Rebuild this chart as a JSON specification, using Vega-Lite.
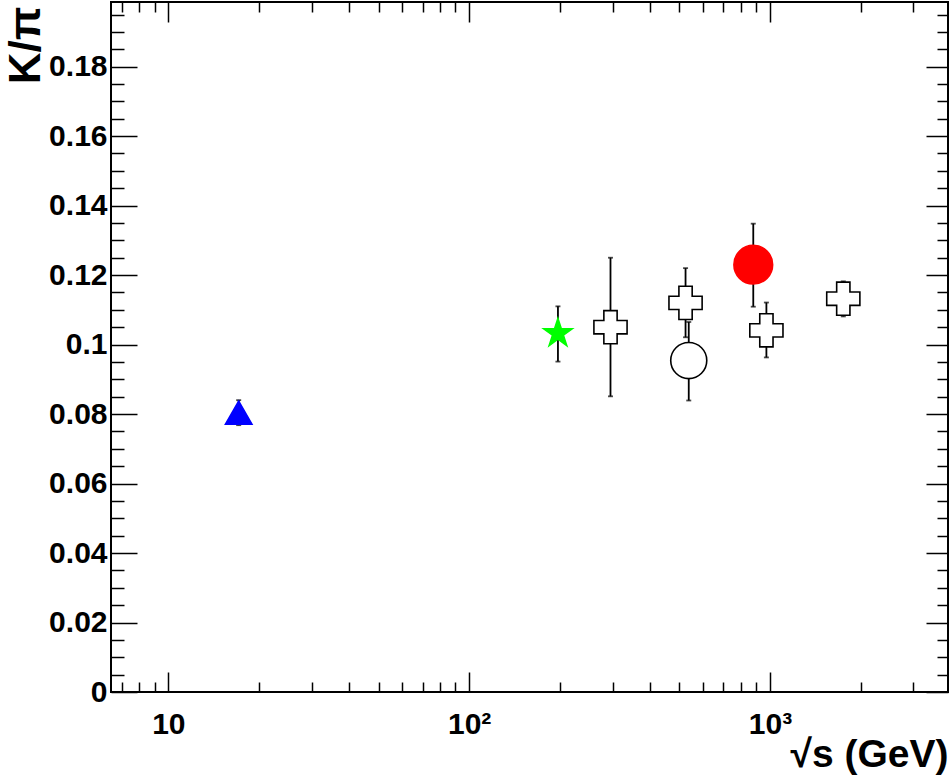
{
  "$schema": "https://vega.github.io/schema/vega-lite/v6.json",
  "autosize": {"type": "none"},
  "padding": {"left": 111, "top": 2, "right": 2, "bottom": 84},
  "width": 837,
  "height": 690,
  "background": "white",
  "config": {
    "view": {"stroke": "black", "strokeWidth": 2},
    "font": "Liberation Sans",
    "axis": {
      "grid": false,
      "domain": false,
      "tickColor": "black",
      "tickWidth": 1.5,
      "labelColor": "black",
      "labelFont": "Liberation Sans",
      "labelFontWeight": "bold",
      "labelFontSize": 30,
      "labelOverlap": false,
      "labelFlush": false,
      "labelBound": false,
      "titleFont": "Liberation Sans",
      "titleFontWeight": "bold",
      "titleColor": "black"
    }
  },
  "data": {
    "values": [
      {"kind": "triangle", "sqrts": 17.13, "ratio": 0.0804, "lo": 0.0768, "hi": 0.084},
      {"kind": "star", "sqrts": 197.3, "ratio": 0.1032, "lo": 0.0951, "hi": 0.111},
      {"kind": "cross", "sqrts": 295, "ratio": 0.105, "lo": 0.0851, "hi": 0.125},
      {"kind": "cross", "sqrts": 524, "ratio": 0.112, "lo": 0.1021, "hi": 0.122},
      {"kind": "open", "sqrts": 537, "ratio": 0.0954, "lo": 0.0839, "hi": 0.1065},
      {"kind": "full", "sqrts": 880, "ratio": 0.123, "lo": 0.1109, "hi": 0.1348},
      {"kind": "cross", "sqrts": 973, "ratio": 0.1041, "lo": 0.0963, "hi": 0.1121},
      {"kind": "cross", "sqrts": 1753, "ratio": 0.1132, "lo": 0.1081, "hi": 0.1182}
    ]
  },
  "resolve": {"axis": {"x": "independent", "y": "independent"}},
  "layer": [
    {
      "mark": {"type": "rule", "color": "black", "strokeWidth": 1.8},
      "encoding": {
        "x": {
          "field": "sqrts",
          "type": "quantitative",
          "scale": {"type": "log", "domain": [6.446, 3907], "nice": false},
          "axis": {
            "orient": "bottom",
            "values": [7, 8, 9, 10, 20, 30, 40, 50, 60, 70, 80, 90, 100, 200, 300, 400, 500, 600, 700, 800, 900, 1000, 2000, 3000],
            "labelExpr": "datum.value == 10 ? '10' : datum.value == 100 ? '10²' : datum.value == 1000 ? '10³' : ''",
            "tickSize": {"condition": {"test": "datum.value == 10 || datum.value == 100 || datum.value == 1000", "value": -20}, "value": -10},
            "labelPadding": 37,
            "labelBaseline": "top",
            "title": "√s (GeV)",
            "titleFontSize": 39,
            "titleX": 837,
            "titleY": 74,
            "titleAlign": "right",
            "titleBaseline": "alphabetic",
            "titleAnchor": null
          }
        },
        "y": {
          "field": "lo",
          "type": "quantitative",
          "scale": {"domain": [0, 0.1986], "nice": false, "zero": false},
          "axis": {
            "orient": "left",
            "values": [0, 0.005, 0.01, 0.015, 0.02, 0.025, 0.03, 0.035, 0.04, 0.045, 0.05, 0.055, 0.06, 0.065, 0.07, 0.075, 0.08, 0.085, 0.09, 0.095, 0.1, 0.105, 0.11, 0.115, 0.12, 0.125, 0.13, 0.135, 0.14, 0.145, 0.15, 0.155, 0.16, 0.165, 0.17, 0.175, 0.18, 0.185, 0.19, 0.195],
            "labelExpr": "round(datum.value * 1000) % 20 == 0 ? toString(datum.value) : ''",
            "tickSize": {"condition": {"test": "round(datum.value * 1000) % 20 == 0", "value": -26}, "value": -13},
            "labelPadding": 30,
            "title": "K/π",
            "titleFontSize": 44,
            "titleAngle": -90,
            "titleX": -72,
            "titleY": 4,
            "titleAlign": "right",
            "titleBaseline": "alphabetic",
            "titleAnchor": null
          }
        },
        "y2": {"field": "hi"}
      }
    },
    {
      "mark": {"type": "tick", "orient": "horizontal", "size": 5, "thickness": 1.8, "color": "black"},
      "encoding": {
        "x": {
          "field": "sqrts",
          "type": "quantitative",
          "axis": {
            "orient": "top",
            "values": [7, 8, 9, 10, 20, 30, 40, 50, 60, 70, 80, 90, 100, 200, 300, 400, 500, 600, 700, 800, 900, 1000, 2000, 3000],
            "labels": false,
            "title": null,
            "tickSize": {"condition": {"test": "datum.value == 10 || datum.value == 100 || datum.value == 1000", "value": -20}, "value": -10}
          }
        },
        "y": {
          "field": "lo",
          "type": "quantitative",
          "axis": {
            "orient": "right",
            "values": [0, 0.005, 0.01, 0.015, 0.02, 0.025, 0.03, 0.035, 0.04, 0.045, 0.05, 0.055, 0.06, 0.065, 0.07, 0.075, 0.08, 0.085, 0.09, 0.095, 0.1, 0.105, 0.11, 0.115, 0.12, 0.125, 0.13, 0.135, 0.14, 0.145, 0.15, 0.155, 0.16, 0.165, 0.17, 0.175, 0.18, 0.185, 0.19, 0.195],
            "labels": false,
            "title": null,
            "tickSize": {"condition": {"test": "round(datum.value * 1000) % 20 == 0", "value": -22}, "value": -11}
          }
        }
      }
    },
    {
      "mark": {"type": "tick", "orient": "horizontal", "size": 5, "thickness": 1.8, "color": "black"},
      "encoding": {
        "x": {"field": "sqrts", "type": "quantitative", "axis": null},
        "y": {"field": "hi", "type": "quantitative", "axis": null}
      }
    },
    {
      "mark": {"type": "point", "filled": false, "opacity": 1, "strokeWidth": 1.6},
      "encoding": {
        "x": {"field": "sqrts", "type": "quantitative", "axis": null},
        "y": {"field": "ratio", "type": "quantitative", "axis": null},
        "shape": {
          "field": "kind",
          "type": "nominal",
          "scale": {
            "domain": ["triangle", "star", "cross", "open", "full"],
            "range": ["triangle-up", "M0,-1L0.2245,-0.309L0.951,-0.309L0.363,0.118L0.588,0.809L0,0.382L-0.588,0.809L-0.363,0.118L-0.951,-0.309L-0.2245,-0.309Z", "cross", "circle", "circle"]
          },
          "legend": null
        },
        "fill": {
          "field": "kind",
          "type": "nominal",
          "scale": {
            "domain": ["triangle", "star", "cross", "open", "full"],
            "range": ["#0000ff", "#00ff00", "white", "white", "#ff0000"]
          },
          "legend": null
        },
        "stroke": {
          "field": "kind",
          "type": "nominal",
          "scale": {
            "domain": ["triangle", "star", "cross", "open", "full"],
            "range": ["#0000ff", "#00ff00", "black", "black", "#ff0000"]
          },
          "legend": null
        },
        "size": {
          "field": "kind",
          "type": "ordinal",
          "scale": {
            "domain": ["triangle", "star", "cross", "open", "full"],
            "range": [700, 1500, 841, 880, 784]
          },
          "legend": null
        }
      }
    }
  ]
}
